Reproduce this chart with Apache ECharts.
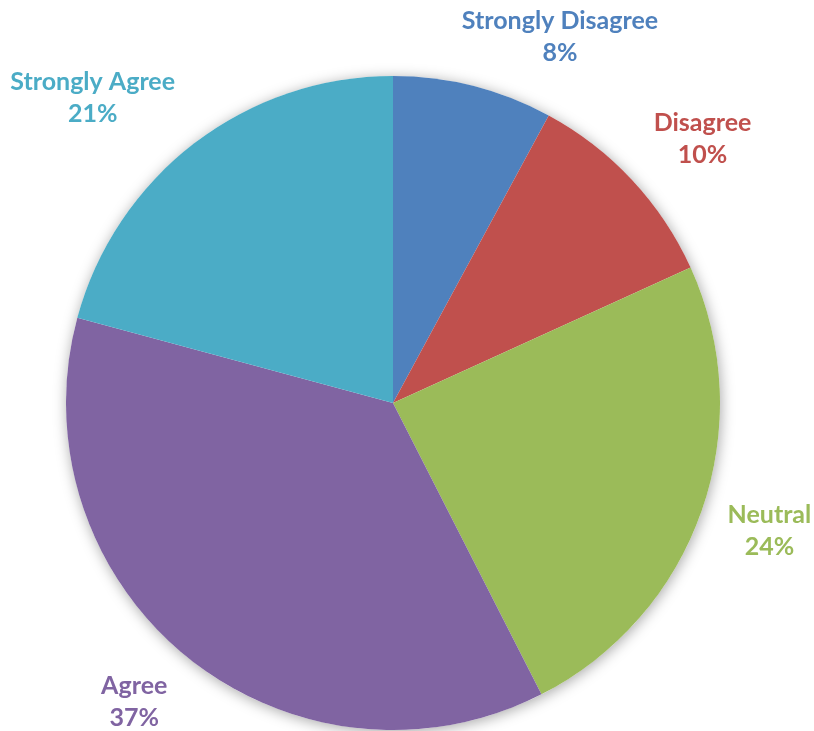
<!DOCTYPE html>
<html>
<head>
<meta charset="utf-8">
<script src="https://cdn.jsdelivr.net/npm/echarts@6/dist/echarts.min.js"></script>
<style>html,body{margin:0;padding:0;background:#fff;}#c{width:814px;height:731px;}</style>
</head>
<body>
<div id="c"></div>
<script>
const categories = ['Strongly Disagree', 'Disagree', 'Neutral', 'Agree', 'Strongly Agree'];
const values = [7.9, 10.3, 24.3, 36.7, 20.8];
const colors = ['#4F81BD', '#C0504D', '#9BBB59', '#8064A2', '#4BACC6'];

const CX = 393, CY = 403, R = 327, GAP = 20;
const total = values.reduce((a, b) => a + b, 0);
const midAngles = [];
let acc = 0;
values.forEach(v => { midAngles.push((acc + v / 2) / total * 2 * Math.PI); acc += v; });

const chart = echarts.init(document.getElementById('c'), null, {renderer: 'canvas'});
chart.setOption({
  animation: false,
  backgroundColor: '#fff',
  series: [
    {
      type: 'pie', silent: true, z: 1,
      center: [CX, CY], radius: R,
      label: {show: false}, labelLine: {show: false},
      itemStyle: {color: '#fff', shadowBlur: 14, shadowColor: 'rgba(0,0,0,0.35)', shadowOffsetX: 1, shadowOffsetY: 2},
      data: [1]
    },
    {
      type: 'pie', z: 2,
      center: [CX, CY], radius: R,
      startAngle: 90, clockwise: true,
      data: categories.map((n, i) => ({name: n, value: values[i], itemStyle: {color: colors[i]},
        label: {color: colors[i]}})),
      label: {
        show: true, position: 'outside', overflow: 'none', edgeDistance: 0,
        formatter: p => p.name + '\n' + Math.round(p.percent) + '%',
        fontFamily: 'Lato', fontWeight: 'bold', fontSize: 25, lineHeight: 32,
        align: 'center'
      },
      labelLine: {show: false},
      labelLayout: function (p) {
        const a = midAngles[p.dataIndex];
        const s = Math.sin(a), c = Math.cos(a);
        const ax = CX + (R + GAP) * s, ay = CY - (R + GAP) * c;
        const w = p.labelRect.width, h = p.labelRect.height;
        const fx = Math.min(1, 3.1 * Math.abs(s)), fy = Math.min(0.92, 1.25 * Math.abs(c));
        return {
          x: ax + Math.sign(s) * (fx * w / 2 + 7),
          y: ay - Math.sign(c) * fy * h / 2,
          align: 'center', verticalAlign: 'middle'
        };
      }
    }
  ]
});
</script>
</body>
</html>
